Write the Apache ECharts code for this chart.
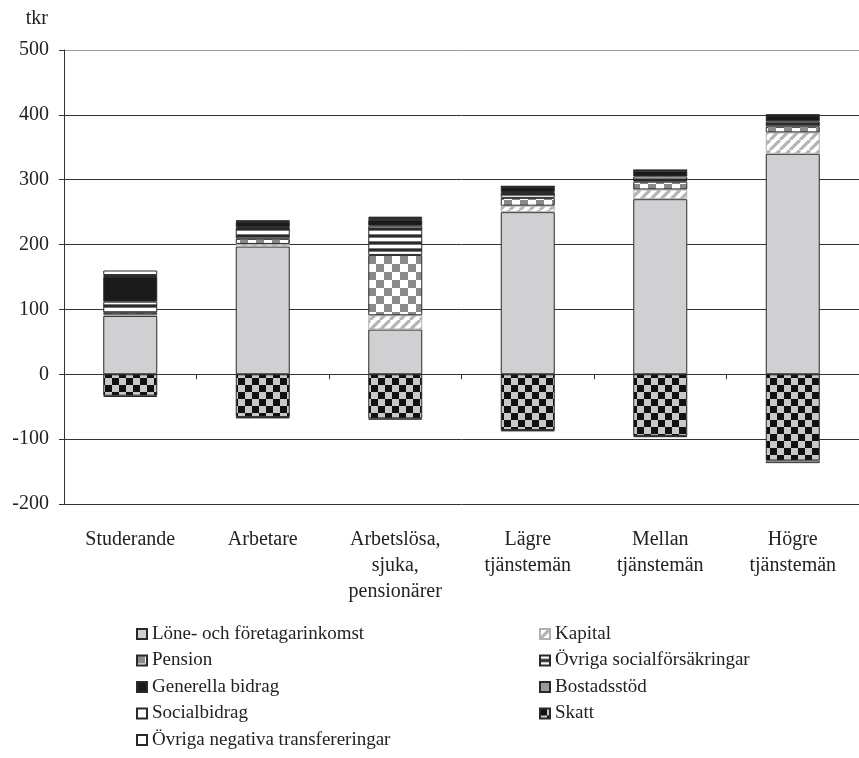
<!DOCTYPE html>
<html>
<head>
<meta charset="utf-8">
<script src="https://cdn.jsdelivr.net/npm/echarts@6/dist/echarts.min.js"></script>
<style>html,body{margin:0;padding:0;background:#fff}#c{width:859px;height:758px}</style>
</head>
<body>
<div id="c"></div>
<script>
const categories = ['Studerande','Arbetare','Arbetslösa,\nsjuka,\npensionärer','Lägre\ntjänstemän','Mellan\ntjänstemän','Högre\ntjänstemän'];
const lone = [90,197,69,250,270,340];
const kapital = [2,4,22,10,15,33];
const pension = [3,8,93,12,12,9];
const ovrigaSoc = [17,18,45,9,8,8];
const generella = [38,8,9,8,9,9];
const bostad = [3,1,3,0.5,0.5,0.5];
const socialbidrag = [7,1,2,0.5,0.5,1];
const skatt = [-33,-66,-68,-86,-95,-133];
const ovrigaNeg = [-2,-2,-2,-2,-2,-4];
const yTicks = [-200,-100,0,100,200,300,400,500];

function pat(w,h,draw){const c=document.createElement('canvas');c.width=w;c.height=h;const x=c.getContext('2d');draw(x,w,h);return {image:c,repeat:'repeat'};}
const hatch = pat(10,10,(x)=>{x.fillStyle='#fff';x.fillRect(0,0,10,10);x.strokeStyle='#b4b4b4';x.lineWidth=3.2;
  for(let k=-10;k<=20;k+=10){x.beginPath();x.moveTo(k,10);x.lineTo(k+10,0);x.stroke();}});
const grayChecker = pat(16,16,(x)=>{x.fillStyle='#fff';x.fillRect(0,0,16,16);x.fillStyle='#8a8a8a';x.fillRect(0,0,8,8);x.fillRect(8,8,8,8);});
const stripes = pat(8,7,(x)=>{x.fillStyle='#fff';x.fillRect(0,0,8,7);x.fillStyle='#2a2a2a';x.fillRect(0,4,8,2);x.fillStyle='#777';x.fillRect(0,3,8,1);x.fillRect(0,6,8,1);});
const blackChecker = pat(14,14,(x)=>{x.fillStyle='#c8c8c8';x.fillRect(0,0,14,14);x.fillStyle='#111';x.fillRect(0,0,7,7);x.fillRect(7,7,7,7);});

const font = 'Liberation Serif';
function ser(name,data,color,border){
  return {name:name,type:'bar',stack:'s',data:data,barWidth:54,xAxisIndex:0,
    itemStyle:{color:color,borderColor:border||'#2a2a2a',borderWidth:1}};
}
const chart = echarts.init(document.getElementById('c'));
const legendText = {fontFamily:font,fontSize:19,color:'#222',lineHeight:20};
chart.setOption({
  animation:false,
  textStyle:{fontFamily:font},
  grid:{left:64,top:50,width:809,height:454},
  xAxis:[
    {type:'category',data:categories,position:'bottom',axisLine:{show:false},axisTick:{show:false},
     axisLabel:{fontFamily:font,fontSize:20,color:'#222',lineHeight:26,margin:23,interval:0}},
    {type:'category',data:categories,position:'bottom',
     axisLine:{show:true,onZero:true,onZeroAxisIndex:0,lineStyle:{color:'#333',width:1}},
     axisTick:{show:true,length:5,lineStyle:{color:'#333'}},axisLabel:{show:false}}
  ],
  yAxis:{type:'value',min:-200,max:500,interval:100,
    name:'tkr',nameLocation:'end',nameGap:21,
    nameTextStyle:{fontFamily:font,fontSize:20,color:'#222',align:'right',padding:[0,16,0,0]},
    axisLine:{show:true,lineStyle:{color:'#333'}},axisTick:{show:true,length:5,lineStyle:{color:'#333'}},
    axisLabel:{fontFamily:font,fontSize:20,color:'#222',margin:15,
      formatter:(v)=>yTicks.indexOf(v)>=0?String(v):''},
    splitLine:{show:true,lineStyle:{color:['#333','#333','#333','#333','#333','#333','#333','#999'],width:1}}},
  legend:[
    {left:131,top:619,orient:'vertical',icon:'rect',itemWidth:10,itemHeight:10,itemGap:6.5,textStyle:legendText,
     data:['Löne- och företagarinkomst','Pension','Generella bidrag','Socialbidrag','Övriga negativa transfereringar']},
    {left:534,top:619,orient:'vertical',icon:'rect',itemWidth:10,itemHeight:10,itemGap:6.5,textStyle:legendText,
     data:['Kapital','Övriga socialförsäkringar','Bostadsstöd','Skatt']}
  ],
  series:[
    ser('Löne- och företagarinkomst',lone,'#d0d0d2'),
    ser('Kapital',kapital,hatch,'#b0b0b0'),
    ser('Pension',pension,grayChecker),
    ser('Övriga socialförsäkringar',ovrigaSoc,stripes),
    ser('Generella bidrag',generella,'#1a1a1a'),
    ser('Bostadsstöd',bostad,'#9a9a9a'),
    ser('Socialbidrag',socialbidrag,'#ffffff'),
    ser('Skatt',skatt,blackChecker),
    ser('Övriga negativa transfereringar',ovrigaNeg,'#ffffff')
  ]
});
</script>
</body>
</html>
